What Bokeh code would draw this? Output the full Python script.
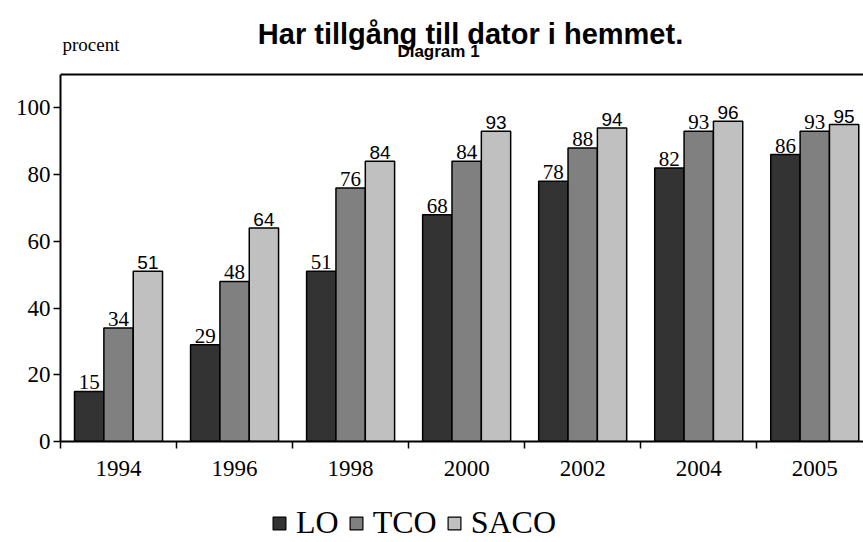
from bokeh.plotting import figure
from bokeh.layouts import column
from bokeh.models import (Range1d, FixedTicker, Label, Legend, LegendItem, Span,
                          ColumnDataSource)
from bokeh.core.properties import value
from bokeh.embed import file_html
from bokeh.resources import INLINE

years = ["1994", "1996", "1998", "2000", "2002", "2004", "2005"]
lo = [15, 29, 51, 68, 78, 82, 86]
tco = [34, 48, 76, 84, 88, 93, 93]
saco = [51, 64, 84, 93, 94, 96, 95]
series_names = ["LO", "TCO", "SACO"]
colors = ["#333333", "#808080", "#c0c0c0"]

SERIF = "Liberation Serif"
SANS = "Liberation Sans"

idx = list(range(len(years)))
bw = 0.2525
offsets = [0.247, 0.5, 0.753]

p = figure(width=863, height=492, output_backend="svg", toolbar_location=None,
           x_range=Range1d(0, 6.92), y_range=Range1d(0, 132.2),
           min_border_left=60, min_border_top=0, min_border_bottom=51,
           min_border_right=0)
p.outline_line_color = None
p.grid.visible = False
p.background_fill_color = "white"

sources = []
for vals, off, col, name in zip([lo, tco, saco], offsets, colors, series_names):
    src = ColumnDataSource(dict(x=[i + off for i in idx], top=vals,
                                lab=[str(v) for v in vals]))
    sources.append(src)
    p.vbar(x="x", top="top", width=bw, source=src, fill_color=col,
           line_color="black", line_width=1.5)
    is_saco = name == "SACO"
    p.text(x="x", y="top", text="lab", source=src, text_align="center",
           text_baseline="bottom", y_offset=-2,
           text_font=value(SANS if is_saco else SERIF),
           text_font_size="19px" if is_saco else "21px", text_color="black")

# top frame line
p.add_layout(Span(location=110, dimension="width", line_color="black", line_width=2))

# axes
p.yaxis.bounds = (0, 110)
p.yaxis.ticker = FixedTicker(ticks=[0, 20, 40, 60, 80, 100])
p.yaxis.axis_line_width = 2
p.yaxis.major_tick_line_width = 1.5
p.yaxis.major_tick_out = 7
p.yaxis.major_tick_in = 0
p.yaxis.minor_tick_line_color = None
p.yaxis.major_label_text_font = SERIF
p.yaxis.major_label_text_font_size = "23px"
p.yaxis.major_label_text_color = "black"
p.yaxis.major_label_standoff = 3

centers = [i + 0.5 for i in idx]
p.xaxis.ticker = FixedTicker(ticks=centers, minor_ticks=list(range(len(years))))
p.xaxis.major_label_overrides = {c: y for c, y in zip(centers, years)}
p.xaxis.major_tick_line_color = None
p.xaxis.minor_tick_out = 7
p.xaxis.minor_tick_in = 0
p.xaxis.minor_tick_line_width = 1.5
p.xaxis.minor_tick_line_color = "black"
p.xaxis.axis_line_width = 2
p.xaxis.major_label_text_font = SERIF
p.xaxis.major_label_text_font_size = "23px"
p.xaxis.major_label_text_color = "black"
p.xaxis.major_label_standoff = 12

# titles (inside the frame, above the plotted area)
p.add_layout(Label(x=410, y=408, x_units="screen", y_units="screen",
                   text="Har tillgång till dator i hemmet.", text_align="center",
                   text_baseline="alphabetic", text_font=SANS,
                   text_font_style="bold", text_font_size="29px",
                   text_color="black"))
p.add_layout(Label(x=378, y=390, x_units="screen", y_units="screen",
                   text="Diagram 1", text_align="center",
                   text_baseline="alphabetic", text_font=SANS,
                   text_font_style="bold", text_font_size="17px",
                   text_color="black"))
p.add_layout(Label(x=2, y=397, x_units="screen", y_units="screen",
                   text="procent", text_align="left",
                   text_baseline="alphabetic", text_font=SERIF,
                   text_font_size="19px", text_color="black"))

# legend in its own strip below the chart
lf = figure(width=863, height=50, output_backend="svg", toolbar_location=None,
            x_range=Range1d(0, 1), y_range=Range1d(0, 1),
            min_border_left=0, min_border_right=0, min_border_top=0,
            min_border_bottom=0)
lf.axis.visible = False
lf.grid.visible = False
lf.outline_line_color = None
items = []
for src, col, name in zip(sources, colors, series_names):
    r = lf.vbar(x="x", top="top", width=bw, source=src, fill_color=col,
                line_color="black", line_width=1.2, visible=False)
    items.append(LegendItem(label=name, renderers=[r]))
legend = Legend(items=items, orientation="horizontal", location=(211, 1),
                label_text_font=SERIF, label_text_font_size="32px",
                label_text_color="black",
                glyph_width=16, glyph_height=16, spacing=9, label_standoff=9,
                padding=0, margin=0, border_line_color=None,
                background_fill_alpha=0, click_policy="none")
lf.add_layout(legend, "center")

open("out.html", "w").write(file_html(column(p, lf), INLINE))
